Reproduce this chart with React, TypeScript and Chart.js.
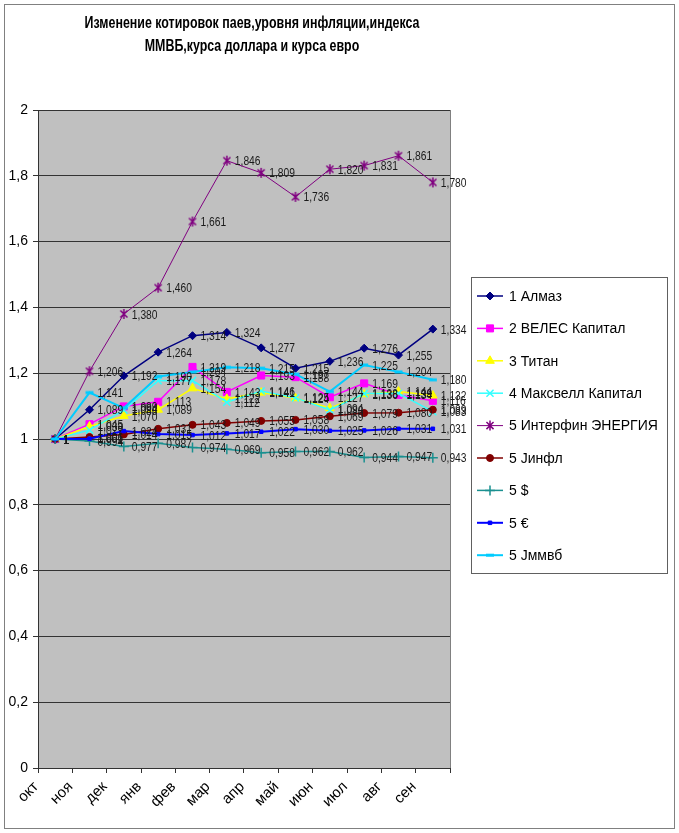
import React, { useEffect, useRef } from 'react';
import { Chart, registerables } from 'chart.js';

Chart.register(...registerables);

const categories = ['окт', 'ноя', 'дек', 'янв', 'фев', 'мар', 'апр', 'май', 'июн', 'июл', 'авг', 'сен'];

const almaz = [1, 1.089, 1.192, 1.264, 1.314, 1.324, 1.277, 1.215, 1.236, 1.276, 1.255, 1.334];
const veles = [1, 1.045, 1.099, 1.113, 1.219, 1.143, 1.193, 1.188, 1.127, 1.169, 1.134, 1.116];
const titan = [1, 1.038, 1.070, 1.089, 1.154, 1.122, 1.141, 1.124, 1.094, 1.136, 1.144, 1.132];
const maxwell = [1, 1.027, 1.088, 1.177, 1.178, 1.112, 1.146, 1.125, 1.088, 1.138, 1.139, 1.083];
const interfin = [1, 1.206, 1.380, 1.460, 1.661, 1.846, 1.809, 1.736, 1.820, 1.831, 1.861, 1.780];
const inflation = [1, 1.006, 1.014, 1.031, 1.043, 1.049, 1.055, 1.058, 1.069, 1.079, 1.080, 1.089];
const usd = [1, 0.994, 0.977, 0.987, 0.974, 0.969, 0.958, 0.962, 0.962, 0.944, 0.947, 0.943];
const eur = [1, 1.001, 1.024, 1.015, 1.012, 1.017, 1.022, 1.030, 1.025, 1.026, 1.031, 1.031];
const micex = [1, 1.141, 1.094, 1.190, 1.204, 1.218, 1.215, 1.197, 1.144, 1.225, 1.204, 1.180];

const seriesNames = [
  '1 Алмаз',
  '2 ВЕЛЕС Капитал',
  '3 Титан',
  '4 Максвелл Капитал',
  '5 Интерфин ЭНЕРГИЯ',
  '5 Jинфл',
  '5 $',
  '5 €',
  '5 Jммвб',
];

const titleLines = ['Изменение котировок паев,уровня инфляции,индекса', 'ММВБ,курса доллара и курса евро'];

const yMin = 0;
const yMax = 2;
const yStep = 0.2;

const FONT = '"Liberation Sans", Arial, sans-serif';

type Style = {
  color: string;
  point: string;
  radius: number;
  width: number;
  pointBorder: number;
  fill: string;
};

const styles: Style[] = [
  { color: '#000080', point: 'rectRot', radius: 4, width: 1.5, pointBorder: 1, fill: '#000080' },
  { color: '#FF00FF', point: 'rect', radius: 5, width: 1.5, pointBorder: 1, fill: '#FF00FF' },
  { color: '#FFFF00', point: 'triangle', radius: 5, width: 1.5, pointBorder: 1, fill: '#FFFF00' },
  { color: '#33FFFF', point: 'crossRot', radius: 5, width: 1.5, pointBorder: 1.5, fill: '#33FFFF' },
  { color: '#800080', point: 'xbar', radius: 5, width: 1, pointBorder: 1.5, fill: '#800080' },
  { color: '#800000', point: 'circle', radius: 3.5, width: 1.5, pointBorder: 1, fill: '#800000' },
  { color: '#1A9090', point: 'cross', radius: 5, width: 1.5, pointBorder: 1.5, fill: '#1A9090' },
  { color: '#0000FF', point: 'rect', radius: 2.5, width: 2, pointBorder: 1, fill: '#0000FF' },
  { color: '#00CCFF', point: 'dash', radius: 3, width: 2, pointBorder: 1, fill: '#00CCFF' },
];

const allData = [almaz, veles, titan, maxwell, interfin, inflation, usd, eur, micex];

function fmt(v: number): string {
  if (Math.abs(v - Math.round(v)) < 1e-9) return String(Math.round(v));
  return v.toFixed(3).replace('.', ',');
}

function fmtTick(v: number): string {
  const r = Math.round(v * 10) / 10;
  if (Math.abs(r - Math.round(r)) < 1e-9) return String(Math.round(r));
  return r.toFixed(1).replace('.', ',');
}

function drawPointSimple(ctx: CanvasRenderingContext2D, style: string, r: number, x: number, y: number) {
  ctx.beginPath();
  switch (style) {
    case 'rectRot':
      ctx.moveTo(x, y - r);
      ctx.lineTo(x + r, y);
      ctx.lineTo(x, y + r);
      ctx.lineTo(x - r, y);
      ctx.closePath();
      ctx.fill();
      ctx.stroke();
      break;
    case 'rect': {
      const s = Math.SQRT1_2 * r;
      ctx.rect(x - s, y - s, 2 * s, 2 * s);
      ctx.fill();
      ctx.stroke();
      break;
    }
    case 'dash':
      ctx.rect(x - 4, y - 1.5, 8, 3);
      ctx.fill();
      break;
    case 'triangle':
      ctx.moveTo(x, y - r);
      ctx.lineTo(x + r * 0.866, y + r * 0.5);
      ctx.lineTo(x - r * 0.866, y + r * 0.5);
      ctx.closePath();
      ctx.fill();
      ctx.stroke();
      break;
    case 'crossRot': {
      const s = Math.SQRT1_2 * r;
      ctx.moveTo(x - s, y - s);
      ctx.lineTo(x + s, y + s);
      ctx.moveTo(x - s, y + s);
      ctx.lineTo(x + s, y - s);
      ctx.stroke();
      break;
    }
    case 'xbar': {
      const s = Math.SQRT1_2 * r;
      ctx.moveTo(x - s, y - s);
      ctx.lineTo(x + s, y + s);
      ctx.moveTo(x - s, y + s);
      ctx.lineTo(x + s, y - s);
      ctx.moveTo(x, y - r);
      ctx.lineTo(x, y + r);
      ctx.stroke();
      break;
    }
    case 'cross':
      ctx.moveTo(x, y - r);
      ctx.lineTo(x, y + r);
      ctx.moveTo(x - r, y);
      ctx.lineTo(x + r, y);
      ctx.stroke();
      break;
    default:
      ctx.arc(x, y, r, 0, Math.PI * 2);
      ctx.fill();
      ctx.stroke();
  }
}

function makeMarker(st: Style): HTMLCanvasElement {
  const size = 14;
  const c = document.createElement('canvas');
  c.width = size;
  c.height = size;
  const ctx = c.getContext('2d') as CanvasRenderingContext2D;
  ctx.fillStyle = st.fill;
  ctx.strokeStyle = st.color;
  ctx.lineWidth = st.pointBorder;
  drawPointSimple(ctx, st.point, st.radius, size / 2, size / 2);
  return c;
}

const backgroundPlugin = {
  id: 'plotBg',
  beforeDraw(chart: any) {
    const { ctx, chartArea } = chart;
    ctx.save();
    ctx.fillStyle = '#ffffff';
    ctx.fillRect(0, 0, chart.width, chart.height);
    ctx.fillStyle = '#C0C0C0';
    ctx.fillRect(chartArea.left, chartArea.top, chartArea.right - chartArea.left, chartArea.bottom - chartArea.top);
    ctx.restore();
  },
  beforeDatasetsDraw(chart: any) {
    const { ctx, chartArea } = chart;
    ctx.save();
    ctx.strokeStyle = '#808080';
    ctx.lineWidth = 1;
    ctx.beginPath();
    ctx.moveTo(Math.round(chartArea.right) + 0.5, chartArea.top);
    ctx.lineTo(Math.round(chartArea.right) + 0.5, chartArea.bottom);
    ctx.stroke();
    ctx.restore();
  },
};

const labelsPlugin = {
  id: 'valueLabels',
  afterDatasetsDraw(chart: any) {
    const { ctx } = chart;
    ctx.save();
    ctx.font = `13px ${FONT}`;
    ctx.fillStyle = '#1a1a1a';
    ctx.textBaseline = 'middle';
    ctx.textAlign = 'left';
    chart.data.datasets.forEach((ds: any, i: number) => {
      const meta = chart.getDatasetMeta(i);
      meta.data.forEach((el: any, j: number) => {
        const txt = fmt(ds.data[j]);
        ctx.save();
        ctx.translate(el.x + 8, el.y + 1);
        ctx.scale(0.79, 1);
        ctx.fillText(txt, 0, 0);
        ctx.restore();
      });
    });
    ctx.restore();
  },
};

const framePlugin = {
  id: 'frame',
  afterDraw(chart: any) {
    const { ctx } = chart;
    ctx.save();
    ctx.strokeStyle = '#808080';
    ctx.lineWidth = 1;
    ctx.strokeRect(4.5, 4.5, 670, 824);

    ctx.fillStyle = '#000';
    ctx.textBaseline = 'middle';
    ctx.textAlign = 'center';
    ctx.font = `bold 17px ${FONT}`;
    const w1 = ctx.measureText(titleLines[0]).width;
    const sx = 335 / w1;
    const ys = [23, 46];
    titleLines.forEach((line, i) => {
      ctx.save();
      ctx.translate(252, ys[i]);
      ctx.scale(sx, 1);
      ctx.fillText(line, 0, 0);
      ctx.restore();
    });

    const lx = 471.5, ly = 277.5, lw = 196, lh = 296;
    ctx.fillStyle = '#ffffff';
    ctx.fillRect(lx, ly, lw, lh);
    ctx.strokeStyle = '#606060';
    ctx.lineWidth = 1;
    ctx.strokeRect(lx, ly, lw, lh);
    ctx.font = `14px ${FONT}`;
    ctx.textAlign = 'left';
    ctx.textBaseline = 'middle';
    seriesNames.forEach((name, i) => {
      const st = styles[i];
      const y = 296 + i * 32.4;
      ctx.strokeStyle = st.color;
      ctx.lineWidth = st.width;
      ctx.beginPath();
      ctx.moveTo(477, y);
      ctx.lineTo(503, y);
      ctx.stroke();
      ctx.save();
      ctx.fillStyle = st.fill;
      ctx.strokeStyle = st.color;
      ctx.lineWidth = st.pointBorder;
      drawPointSimple(ctx, st.point, st.radius, 490, y);
      ctx.restore();
      ctx.fillStyle = '#000';
      ctx.fillText(name, 509, y + 1);
    });
    ctx.restore();
  },
};

export default function App() {
  const ref = useRef<HTMLCanvasElement | null>(null);

  useEffect(() => {
    document.body.style.margin = '0';
    const canvas = ref.current;
    if (!canvas) return;
    const n = allData.length;
    const builtin = ['rectRot', 'rect', 'triangle', 'crossRot', 'cross', 'circle'];
    const chart = new Chart(canvas, {
      type: 'line',
      data: {
        labels: categories,
        datasets: allData.map((d, i) => {
          const st = styles[i];
          const ps: any = builtin.includes(st.point) ? st.point : makeMarker(st);
          return {
            label: seriesNames[i],
            data: d,
            borderColor: st.color,
            backgroundColor: st.fill,
            borderWidth: st.width,
            pointStyle: ps,
            pointRadius: st.radius,
            pointHoverRadius: st.radius,
            pointBorderWidth: st.pointBorder,
            pointBorderColor: st.color,
            pointBackgroundColor: st.fill,
            tension: 0,
            fill: false,
            order: n - i,
          };
        }),
      },
      options: {
        responsive: false,
        animation: false,
        devicePixelRatio: 1,
        layout: { padding: { left: 0, right: 229, top: 110, bottom: 0 } },
        plugins: {
          legend: { display: false },
          title: { display: false },
          tooltip: { enabled: false },
        },
        scales: {
          x: {
            type: 'category',
            offset: true,
            grid: {
              offset: true,
              drawOnChartArea: false,
              drawTicks: true,
              tickLength: 5,
              color: '#333333',
            },
            border: { display: true, color: '#333333', width: 1 },
            ticks: {
              color: '#000',
              font: { family: FONT, size: 15 },
              minRotation: 45,
              maxRotation: 45,
              autoSkip: false,
              padding: 5,
              labelOffset: -19,
            },
            afterFit(scale: any) {
              scale.height = 65;
            },
          },
          y: {
            min: yMin,
            max: yMax,
            grid: {
              color: '#333333',
              lineWidth: 1,
              drawTicks: true,
              tickLength: 5,
            },
            border: { display: true, color: '#333333', width: 1 },
            ticks: {
              stepSize: yStep,
              color: '#000',
              font: { family: FONT, size: 14 },
              padding: 5,
              callback: (v: any) => fmtTick(Number(v)),
            },
            afterFit(scale: any) {
              scale.width = 38;
            },
          },
        },
      },
      plugins: [backgroundPlugin, labelsPlugin, framePlugin],
    });
    return () => {
      chart.destroy();
    };
  }, []);

  return (
    <div style={{ width: 679, height: 833, position: 'relative' }}>
      <canvas ref={ref} width={679} height={833} style={{ display: 'block', width: 679, height: 833 }} />
    </div>
  );
}
